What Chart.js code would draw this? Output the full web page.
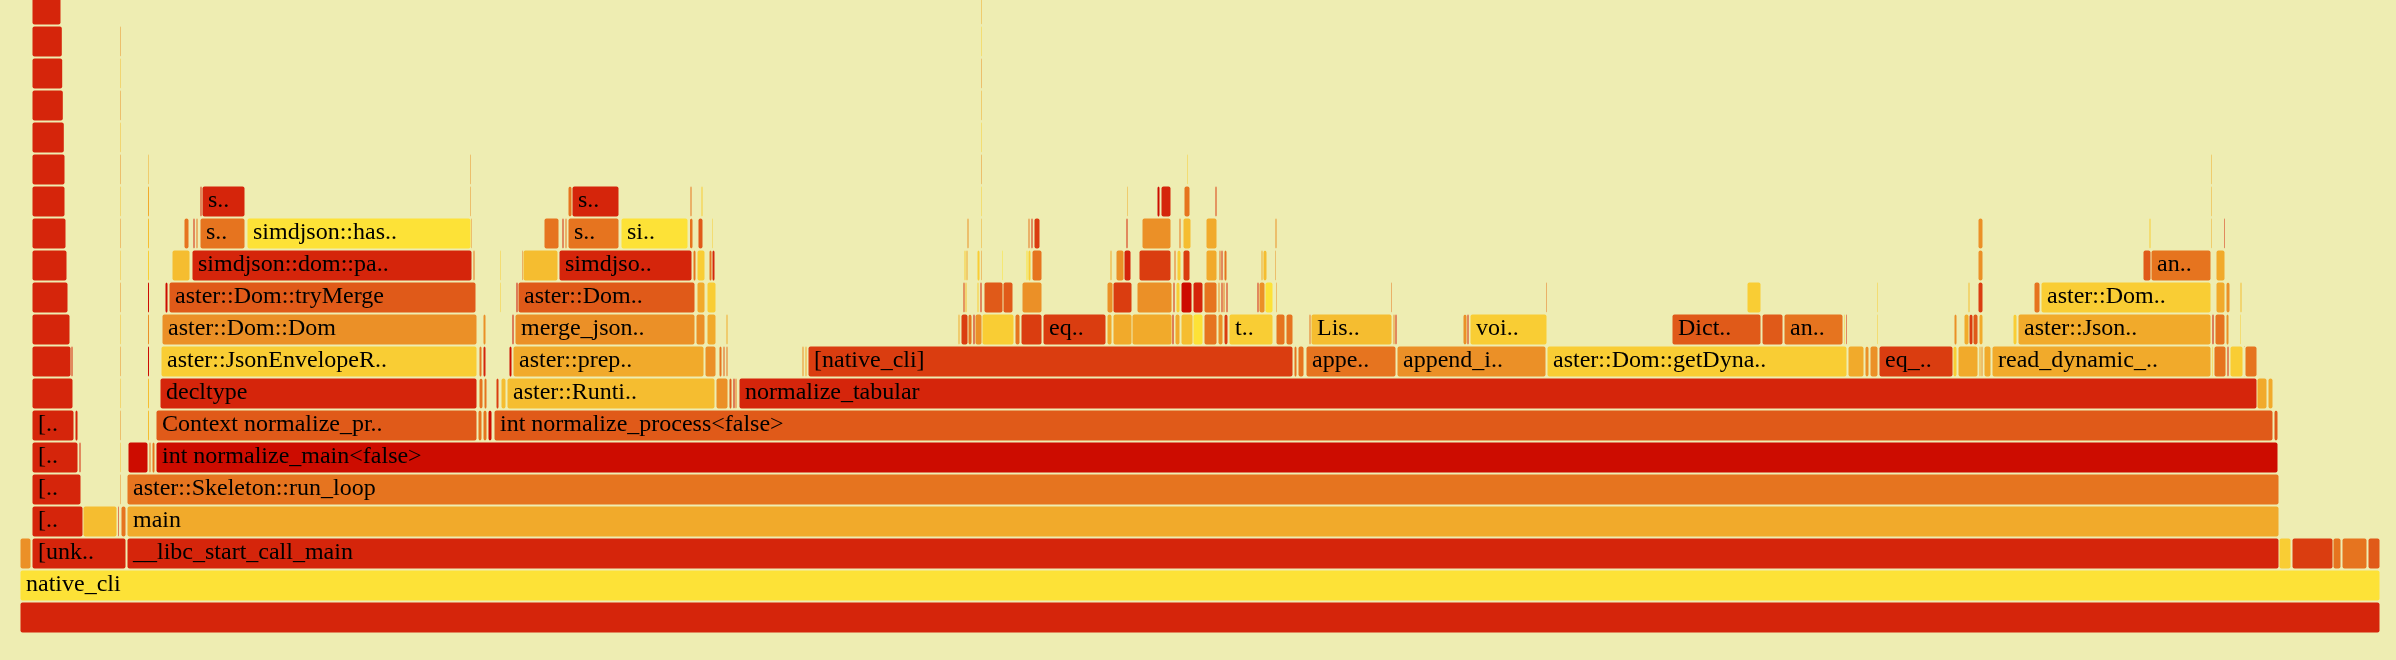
<!DOCTYPE html>
<html>
<head>
<meta charset="utf-8">
<script src="https://cdn.jsdelivr.net/npm/chart.js@4.4.1/dist/chart.umd.min.js"></script>
<style>
  html, body { margin: 0; padding: 0; background: #eeedb2; }
  canvas { display: block; }
</style>
</head>
<body>
<canvas id="flame" width="2396" height="660"></canvas>
<script>
// stack frames per depth: [start, end, label] in samples (root = 2360)
const row0 = [[0,2360,'']];
const row1 = [[0,2360,'native_cli']];
const row2 = [[0,11,''],[12,106,'[unk..'],[107,2259,'__libc_start_call_main'],[2259,2271,''],[2272,2313,''],[2313,2321,''],[2322,2347,''],[2348,2360,'']];
const row3 = [[12,63,'[..'],[63,97,''],[98,99.5,''],[101,106,''],[107,2259,'main']];
const row4 = [[12,61,'[..'],[99.5,101,''],[107,2259,'aster::Skeleton::run_loop']];
const row5 = [[12,58,'[..'],[59,61,''],[99.5,101,''],[108,128,''],[129,131,''],[132,135,''],[136,2258,'int normalize_main<false>']];
const row6 = [[12,54,'[..'],[55,58,''],[99.5,101,''],[127.5,129.5,''],[136,457,'Context normalize_pr..'],[458,462,''],[463,467,''],[468,472,''],[474,2253,'int normalize_process<false>'],[2254,2258,'']];
const row7 = [[12,53,''],[99.5,101,''],[127.5,129.5,''],[140,457,'decltype'],[459,463,''],[464,467,''],[476,479,''],[481,486,''],[487,695,'aster::Runti..'],[696,708,''],[709,712,''],[713,715,''],[715,717,''],[719,2237,'normalize_tabular'],[2237,2247,''],[2248,2253,'']];
const row8 = [[12,51,''],[51,53,''],[99.5,101,''],[127.5,129.5,''],[141,457,'aster::JsonEnvelopeR..'],[459,462,''],[463,466,''],[489,492,''],[493,684,'aster::prep..'],[685,696,''],
  [699,702,''],[703,705,''],[706,708,''],[782,784,''],[785,787,''],[788,1273,'[native_cli]'],[1274,1277,''],[1278,1284,''],[1286,1376,'appe..'],[1377,1526,'append_i..'],
  [1527,1827,'aster::Dom::getDyna..'],[1828,1844,''],[1845,1849,''],[1850,1858,''],[1859,1933,'eq_..'],[1933,1937,''],[1938,1958,''],[1959,1961,''],[1961,1963,''],[1964,1971,''],
  [1972,2191,'read_dynamic_..'],[2192,2193.5,''],[2194,2206,''],[2207,2209,''],[2210,2223,''],[2224,2225,''],[2225,2237,'']];
const row9 = [[12,50,''],[99.5,101,''],[127.5,129.5,''],[142,457,'aster::Dom::Dom'],[463,466,''],[492,494,''],[495,675,'merge_json..'],[676,685,''],[687,696,''],[706,708,''],
  [938,940,''],[941,948,''],[948,952,''],[953,955,''],[955,962,''],[962,994,''],[995,1000,''],[1001,1022,''],[1023,1086,'eq..'],[1087,1092,''],
  [1093,1112,''],[1112,1152,''],[1152,1154,''],[1155,1160,''],[1161,1173,''],[1173,1183,''],[1184,1197,''],[1198,1203,''],[1204,1208,''],[1209,1253,'t..'],
  [1256,1265,''],[1266,1273,''],[1289,1291,''],[1291,1372,'Lis..'],[1373,1375,''],[1375,1377,''],[1443,1447,''],[1447,1449,''],[1450,1527,'voi..'],[1652,1741,'Dict..'],
  [1742,1763,''],[1764,1823,'an..'],[1824,1825.5,''],[1825.5,1827,''],[1857,1858.5,''],[1934,1937,''],[1944,1949,''],[1949,1953,''],[1953,1958,''],[1959,1963,''],
  [1993,1997,''],[1998,2191,'aster::Json..'],[2192,2194,''],[2195,2205,''],[2206,2209,''],[2220,2221.5,'']];
const row10 = [[12,48,''],[99.5,101,''],[127.5,129.5,''],[145,148,''],[149,456,'aster::Dom::tryMerge'],[479.5,481,''],[496,498,''],[498,675,'aster::Dom..'],[677,685,''],[687,696,''],
  [943,945,''],[945,947,''],[957,959,''],[960,962,''],[964,983,''],[983,993,''],[1002,1022,''],[1087,1093,''],[1093,1112,''],[1117,1152,''],
  [1153,1155,''],[1156,1160,''],[1161,1172,''],[1173,1183,''],[1184,1197,''],[1198,1200,''],[1201,1203,''],[1203,1205,''],[1206,1208,''],[1237,1239,''],
  [1239,1245,''],[1245,1253,''],[1255.5,1257,''],[1370.5,1372,''],[1526,1527.5,''],[1727,1741,''],[1857,1858.5,''],[1948,1950,''],[1958,1963,''],[2014,2020,''],
  [2021,2191,'aster::Dom..'],[2196,2205,''],[2206,2210,''],[2220,2222,'']];
const row11 = [[12,47,''],[99.5,101,''],[127.5,129.5,''],[152,170,''],[172,452,'simdjson::dom::pa..'],[453,455,''],[479.5,481,''],[501.5,503,''],[503,538,''],[539,672,'simdjso..'],
  [673,676,''],[677,685,''],[689,692,''],[692,695,''],[944,946,''],[946,948,''],[957,960,''],[961,962.5,''],[982,983.5,''],[1006,1008,''],
  [1008,1011,''],[1012,1022,''],[1090,1092,''],[1096,1104,''],[1104,1111,''],[1119,1151,''],[1154,1156,''],[1157,1161,''],[1163,1170,''],[1186,1197,''],
  [1199,1201,''],[1201,1203,''],[1204,1207,''],[1241,1243,''],[1243,1247,''],[1255,1256.5,''],[1958,1963,''],[2123,2131,''],[2131,2191,'an..'],[2196,2205,'']];
const row12 = [[12,46,''],[99.5,101,''],[127.5,129.5,''],[164,169,''],[173,175,''],[176,178,''],[180,225,'s..'],[227,451,'simdjson::has..'],[451,452.5,''],[524,539,''],
  [542,544,''],[545,547,''],[548,599,'s..'],[601,668,'si..'],[669.5,673,''],[678,683,''],[691.5,693,''],[947,949,''],[961,962.5,''],[1008,1010,''],
  [1011,1013,''],[1014,1020,''],[1106,1108,''],[1122,1151,''],[1159,1161,''],[1163,1171,''],[1186,1197,''],[1255,1257,''],[1958,1963,''],[2129,2131,''],
  [2190.5,2192,''],[2204,2205.5,'']];
const row13 = [[12,45,''],[99.5,101,''],[127.5,129.5,''],[180,182,''],[182,225,'s..'],[449.5,451,''],[548,552,''],[552,599,'s..'],[670,672,''],[681,683,''],
  [961,962.5,''],[1107,1108.5,''],[1137,1140,''],[1141,1151,''],[1164,1170,''],[1195,1197,''],[2190.5,2192,'']];
const row14 = [[12,45,''],[99.5,101,''],[127.5,129,''],[449.5,451,''],[961,962.5,''],[1167,1168.5,''],[2190.5,2192,'']];
const row15 = [[12,44.3,''],[99.5,101,''],[961,962.5,'']];
const row16 = [[12,43.3,''],[99.5,101,''],[961,962.5,'']];
const row17 = [[12,42.7,''],[99.5,101,''],[961,962.5,'']];
const row18 = [[12,42.3,''],[99.5,101,''],[961,962.5,'']];
const row19 = [[12,41,''],[961,962.5,'']];

// colour key of every frame, same order as the rows above
const col0 = ['r1'];
const col1 = ['y3'];
const col2 = ['o3','r1','r1','y2','r2','o2','o2','o1'];
const col3 = ['r1','y1','r0','o2','a1'];
const col4 = ['r1','o3','o2'];
const col5 = ['r1','r1','y1','r0','o2','o2','r0'];
const col6 = ['r1','r1','o3','y1','o1','o2','o2','r0','o1','o1'];
const col7 = ['r1','y1','y1','r1','o2','o2','r2','y1','y1','o3','o1','r0','o2','r1','a1','a1'];
const col8 = ['r1','r1','o3','r0','y2','o2','r1','r0','a1','o3',
  'o2','o1','o2','o3','a1','r2','o2','o2','o2','o3',
  'y2','a1','o3','o3','r2','y2','a1','a1','o3','a1',
  'a1','y2','o2','r1','y2','r1','o2'];
const col9 = ['r1','y1','o3','o3','o3','r0','o3','o3','a1','a1',
  'a1','r2','o2','r0','o3','y2','o2','r2','r2','a1',
  'a1','a1','r0','a1','y1','y3','o2','o3','r2','y2',
  'o2','o2','o2','y1','o3','r1','o3','r1','y2','o1',
  'o1','o2','y2','r1','y2','o3','a1','r2','o1','a1',
  'y2','a1','r0','o2','o3','y2'];
const col10 = ['r1','o3','r0','r0','o1','y2','r0','o1','a1','y2',
  'r2','y1','y2','r1','o1','o1','o3','o3','r2','o3',
  'r1','y2','r0','r1','o2','o3','r1','o2','r1','r1',
  'o3','y3','o3','o2','o2','y2','y2','y1','r2','o2',
  'y2','a1','o3','y1'];
const col11 = ['r1','y1','y2','y1','r1','o2','y2','o2','y1','r1',
  'o2','y2','o2','r1','y2','a1','y2','o3','y3','y3',
  'y2','o2','a1','o3','r1','r2','o2','y2','r2','a1',
  'o2','r1','o2','a1','y1','o3','o3','o1','o2','a1'];
const col12 = ['r1','o3','y1','o2','r1','o2','o2','y3','o3','o2',
  'r1','o2','o2','y3','o2','o1','y2','o3','a1','o2',
  'r1','r2','r1','o3','o2','y1','a1','o3','o3','y2',
  'a1','r1'];
const col13 = ['r1','y1','a1','r1','r1','o3','o2','r1','o2','y2',
  'y2','a1','r0','r1','o2','r2','a1'];
const col14 = ['r1','o3','a1','o3','o3','y2','a1'];
const col15 = ['r1','y1','y2'];
const col16 = ['r1','o3','a1'];
const col17 = ['r1','y1','o3'];
const col18 = ['r1','o3','y2'];
const col19 = ['r1','a1'];

const palette = {
    r0: '#cd0c00', r1: '#d5250b', r2: '#da3d10',
    o1: '#e05a19', o2: '#e6741f', o3: '#eb9027',
    a1: '#f1aa2b', y1: '#f5bd30', y2: '#f9cd34', y3: '#fde237'
};

const rows = [row0,row1,row2,row3,row4,row5,row6,row7,row8,row9,row10,row11,row12,row13,row14,row15,row16,row17,row18,row19];
const rowColors = [col0,col1,col2,col3,col4,col5,col6,col7,col8,col9,col10,col11,col12,col13,col14,col15,col16,col17,col18,col19];

function initFlame(container) {
    const canvas = document.getElementById(container);

    const points = [];
    const colors = [];
    const names = [];
    rows.forEach((row, level) => {
        row.forEach((f, i) => {
            points.push({ x: [f[0], f[1]], y: level });
            names.push(f[2]);
            colors.push(palette[rowColors[level][i]] || '#d5250b');
        });
    });

    const background = {
        id: 'background',
        beforeDraw(chart) {
            const ctx = chart.ctx;
            ctx.save();
            ctx.fillStyle = '#eeedb2';
            ctx.fillRect(0, 0, chart.width, chart.height);
            ctx.restore();
        }
    };

    // frame names, left aligned inside each bar
    const frameLabels = {
        id: 'frameLabels',
        afterDatasetsDraw(chart) {
            const ctx = chart.ctx;
            const meta = chart.getDatasetMeta(0);
            ctx.save();
            ctx.font = '24px "Liberation Serif"';
            ctx.fillStyle = '#000000';
            ctx.textBaseline = 'alphabetic';
            meta.data.forEach((bar, i) => {
                if (!names[i]) return;
                const left = Math.min(bar.x, bar.base);
                const w = Math.abs(bar.x - bar.base);
                ctx.save();
                ctx.beginPath();
                ctx.rect(left, bar.y - bar.height / 2, w, bar.height);
                ctx.clip();
                ctx.fillText(names[i], left + 6, bar.y + 5.5);
                ctx.restore();
            });
            ctx.restore();
        }
    };

    new Chart(canvas, {
        type: 'bar',
        data: {
            datasets: [{
                data: points,
                backgroundColor: colors,
                borderWidth: 0,
                borderRadius: 2,
                borderSkipped: false,
                barThickness: 31,
                inflateAmount: -0.5,
                grouped: false,
            }]
        },
        options: {
            indexAxis: 'y',
            responsive: false,
            animation: false,
            events: [],
            layout: {
                padding: { left: 20, right: 16, top: 0, bottom: 26.5 }
            },
            scales: {
                x: { type: 'linear', min: 0, max: 2360, display: false, offset: false },
                y: { type: 'linear', min: -0.5, max: 19.297, display: false, offset: false, grid: { offset: false } }
            },
            plugins: {
                legend: { display: false },
                tooltip: { enabled: false },
            },
        },
        plugins: [background, frameLabels]
    });
}

initFlame('flame');
</script>
</body>
</html>
